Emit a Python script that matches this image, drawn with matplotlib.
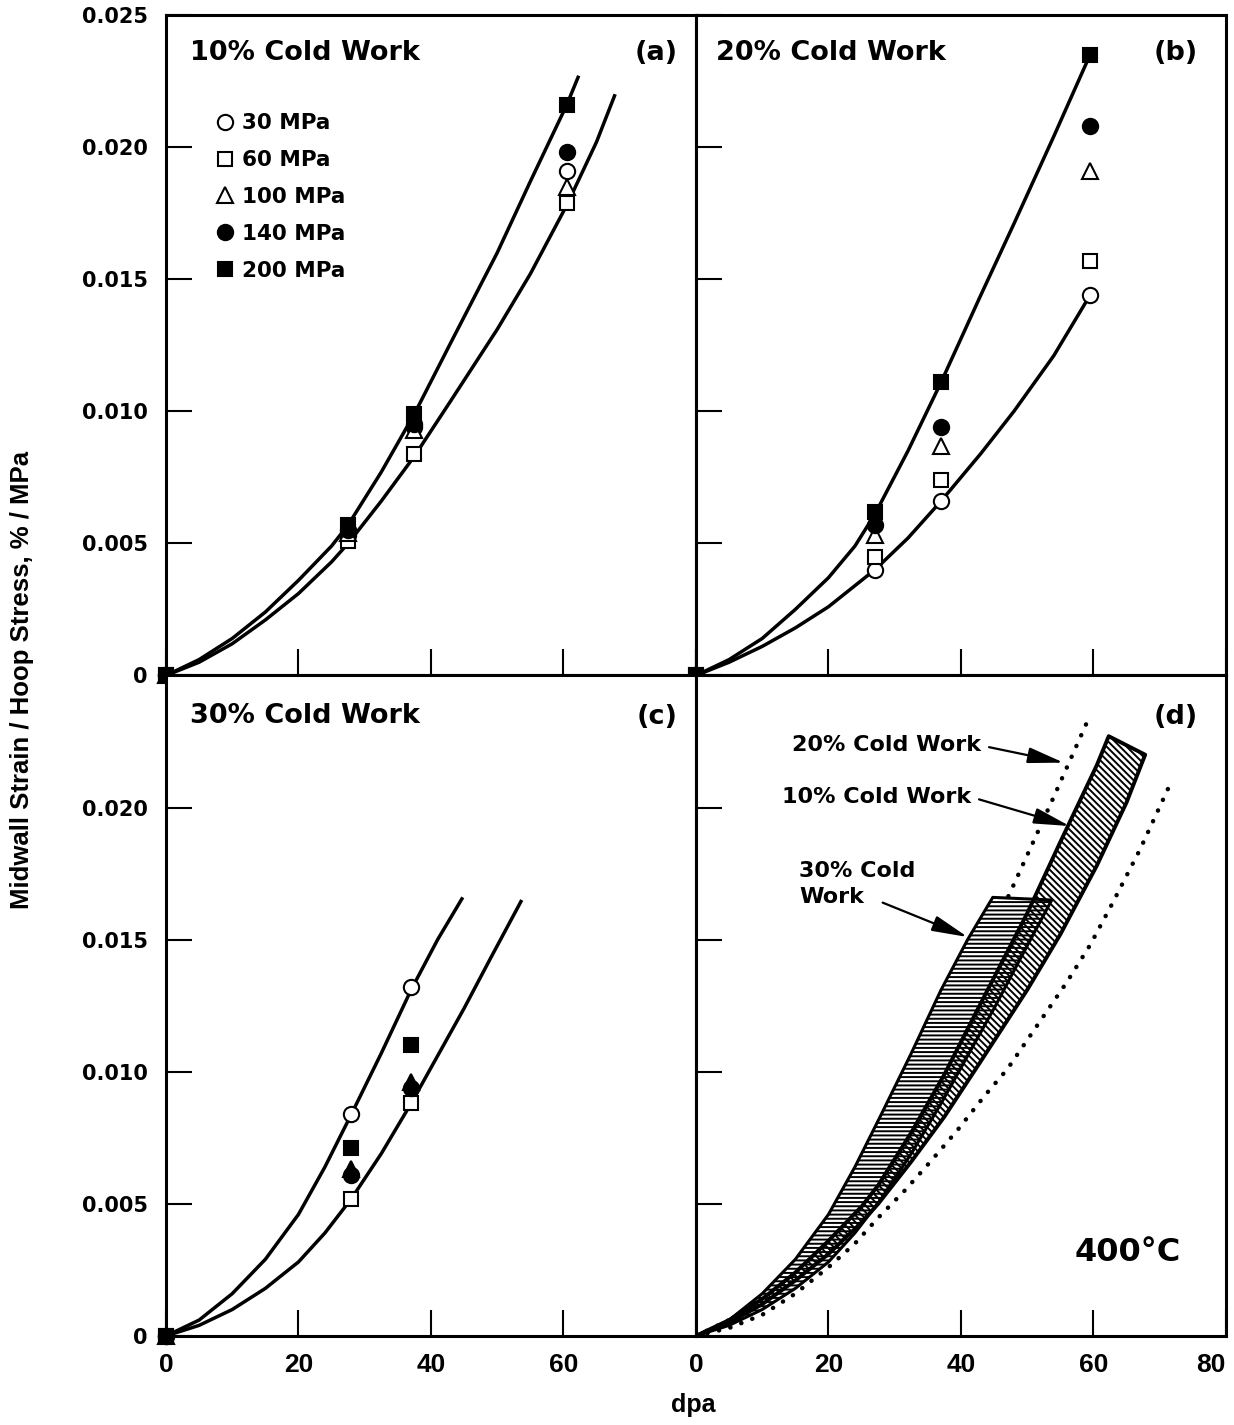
import matplotlib
matplotlib.use('Agg')
import matplotlib.pyplot as plt

# ---------------- data ----------------
stress_labels = ['30 MPa', '60 MPa', '100 MPa', '140 MPa', '200 MPa']

# (a) 10% cold work
dpa_a = [0, 27.5, 37.5, 60.5]
a_30 = [0, 0.0053, 0.0094, 0.0191]
a_60 = [0, 0.0051, 0.0084, 0.0179]
a_100 = [0, 0.0054, 0.0093, 0.0185]
a_140 = [0, 0.0055, 0.0095, 0.0198]
a_200 = [0, 0.0057, 0.0099, 0.0216]
a_up_x = [0, 5, 10, 15, 20, 25, 27.5, 32.5, 37.5, 43, 50, 55, 60.5, 62.3]
a_up_y = [0, 0.0006, 0.0014, 0.0024, 0.0036, 0.0049, 0.0057, 0.0077, 0.0099,
          0.0126, 0.0160, 0.0187, 0.0216, 0.0227]
a_low_x = [0, 5, 10, 15, 20, 25, 27.5, 32.5, 37.5, 43, 50, 55, 60.5, 65, 67.8]
a_low_y = [0, 0.0005, 0.0012, 0.0021, 0.0031, 0.0043, 0.0050, 0.0066, 0.0083,
           0.0104, 0.0131, 0.0152, 0.0178, 0.0202, 0.0220]

# (b) 20% cold work
dpa_b = [0, 27, 37, 59.5]
b_30 = [0, 0.0040, 0.0066, 0.0144]
b_60 = [0, 0.0045, 0.0074, 0.0157]
b_100 = [0, 0.0053, 0.0087, 0.0191]
b_140 = [0, 0.0057, 0.0094, 0.0208]
b_200 = [0, 0.0062, 0.0111, 0.0235]
b_up_x = [0, 5, 10, 15, 20, 24, 27, 32, 37, 43, 48, 54, 59.5]
b_up_y = [0, 0.0006, 0.0014, 0.0025, 0.0037, 0.0049, 0.0061, 0.0085, 0.0111,
          0.0144, 0.0171, 0.0204, 0.0235]
b_low_x = [0, 5, 10, 15, 20, 24, 27, 32, 37, 43, 48, 54, 59.5]
b_low_y = [0, 0.0005, 0.0011, 0.0018, 0.0026, 0.0034, 0.0040, 0.0052, 0.0066,
           0.0084, 0.0100, 0.0121, 0.0144]

# (c) 30% cold work
dpa_c = [0, 28, 37]
c_30 = [0, 0.0084, 0.0132]
c_60 = [0, 0.0052, 0.0088]
c_100 = [0, 0.0063, 0.0096]
c_140 = [0, 0.0061, 0.0094]
c_200 = [0, 0.0071, 0.0110]
c_up_x = [0, 5, 10, 15, 20, 24, 28, 32.5, 37, 41, 44.8]
c_up_y = [0, 0.0006, 0.0016, 0.0029, 0.0046, 0.0064, 0.0084, 0.0107, 0.0131,
          0.0150, 0.0166]
c_low_x = [0, 5, 10, 15, 20, 24, 28, 32.5, 37, 41, 45, 49, 53.7]
c_low_y = [0, 0.0004, 0.0010, 0.0018, 0.0028, 0.0039, 0.0052, 0.0069, 0.0088,
           0.0106, 0.0124, 0.0143, 0.0165]

# (d) lower dotted bound of 20% cold work
d_low_x = [0, 5, 10, 15, 20, 24, 27.6, 31.5, 35.4, 39.5, 43.6, 47, 50, 53, 56,
           59.5, 62.7, 67, 71.6]
d_low_y = [0, 0.0003, 0.0008, 0.0016, 0.0026, 0.0035, 0.0045, 0.0055, 0.0066,
           0.0078, 0.0091, 0.0101, 0.0112, 0.0123, 0.0134, 0.0148, 0.0163,
           0.0184, 0.0209]

x_ticks_left = [0, 20, 40, 60]
x_ticks_right = [0, 20, 40, 60, 80]
y_ticks_top = [0, 0.005, 0.010, 0.015, 0.020, 0.025]
y_labels_top = ['0', '0.005', '0.010', '0.015', '0.020', '0.025']
y_ticks_bot = [0, 0.005, 0.010, 0.015, 0.020]
y_labels_bot = ['0', '0.005', '0.010', '0.015', '0.020']

# ---------------- style ----------------
plt.rcParams['font.family'] = ['DejaVu Sans']
plt.rcParams['font.weight'] = 'bold'
plt.rcParams['hatch.linewidth'] = 1.4

markers = ['o', 's', '^', 'o', 's']
faces = ['white', 'white', 'white', 'black', 'black']
msizes = [11, 10.5, 12, 11, 10.5]

fig = plt.figure(figsize=(12.34, 14.25), dpi=100)
L, W, H, B = 0.1345, 0.4295, 0.4635, 0.0625
axa = fig.add_axes([L, B + H, W, H])
axb = fig.add_axes([L + W, B + H, W, H])
axc = fig.add_axes([L, B, W, H])
axd = fig.add_axes([L + W, B, W, H])

for ax in (axa, axb, axc, axd):
    ax.set_xlim(0, 80)
    ax.set_ylim(0, 0.025)
    for s in ax.spines.values():
        s.set_linewidth(2.2)
    ax.tick_params(direction='in', length=19, width=1.5, top=False, right=False)
    ax.set_xticks(x_ticks_right)
    ax.set_yticks(y_ticks_top)
    ax.tick_params(labelbottom=False, labelleft=False)

xfont = dict(family=['Liberation Sans', 'DejaVu Sans'], size=19, weight='bold')
yfont = dict(family=['DejaVu Sans'], size=15, weight='bold')

axa.set_yticks(y_ticks_top)
axa.set_yticklabels(y_labels_top, fontdict=yfont)
axa.tick_params(labelleft=True, pad=13)
axc.set_yticks(y_ticks_bot)
axc.set_yticklabels(y_labels_bot, fontdict=yfont)
axc.tick_params(labelleft=True, pad=13)
axc.set_xticks(x_ticks_left)
axc.set_xticklabels([str(v) for v in x_ticks_left], fontdict=xfont)
axc.tick_params(labelbottom=True, axis='x', pad=12)
axd.set_xticks(x_ticks_right)
axd.set_xticklabels([str(v) for v in x_ticks_right], fontdict=xfont)
axd.tick_params(labelbottom=True, axis='x', pad=12)
for lab in axd.get_xticklabels():
    if lab.get_text() == '80':
        lab.set_horizontalalignment('right')
axb.set_yticks(y_ticks_top)
axd.set_yticks(y_ticks_bot)


def draw_panel(ax, xs, series, curves, tri_face='white'):
    for cx, cy in curves:
        ax.plot(cx, cy, color='black', lw=2.5, zorder=2, solid_capstyle='butt',
                solid_joinstyle='round')
    for i, (ys, lab) in enumerate(zip(series, stress_labels)):
        fc = faces[i]
        if i == 2:
            fc = tri_face
        ax.plot(xs, ys, linestyle='none', marker=markers[i], ms=msizes[i],
                mfc=fc, mec='black', mew=1.5, label=lab, zorder=3 + i, clip_on=False)


draw_panel(axa, dpa_a, [a_30, a_60, a_100, a_140, a_200],
           [(a_up_x, a_up_y), (a_low_x, a_low_y)])
draw_panel(axb, dpa_b, [b_30, b_60, b_100, b_140, b_200],
           [(b_up_x, b_up_y), (b_low_x, b_low_y)])
draw_panel(axc, dpa_c, [c_30, c_60, c_100, c_140, c_200],
           [(c_up_x, c_up_y), (c_low_x, c_low_y)], tri_face='black')

leg = axa.legend(loc='upper left', bbox_to_anchor=(0.093, 0.851), frameon=False,
                 handlelength=0.9, handletextpad=0.35, labelspacing=0.78,
                 borderpad=0, borderaxespad=0,
                 prop=dict(family='DejaVu Sans', weight='bold', size=15.5))

tfont = dict(fontsize=19.5, fontweight='bold', va='center')
axa.text(0.045, 0.942, '10% Cold Work', transform=axa.transAxes, ha='left', **tfont)
axa.text(0.966, 0.942, '(a)', transform=axa.transAxes, ha='right', **tfont)
axb.text(0.038, 0.942, '20% Cold Work', transform=axb.transAxes, ha='left', **tfont)
axb.text(0.947, 0.942, '(b)', transform=axb.transAxes, ha='right', **tfont)
axc.text(0.045, 0.939, '30% Cold Work', transform=axc.transAxes, ha='left', **tfont)
axc.text(0.966, 0.937, '(c)', transform=axc.transAxes, ha='right', **tfont)
axd.text(0.947, 0.937, '(d)', transform=axd.transAxes, ha='right', **tfont)
axd.text(0.814, 0.126, '400°C', transform=axd.transAxes, ha='center', va='center',
         fontsize=23, fontweight='bold')

# ---- panel (d) ----
dot_style = dict(color='black', lw=3.2, linestyle=(0, (0.05, 2.6)),
                 dash_capstyle='round', zorder=1)
axd.plot(b_up_x, b_up_y, **dot_style)
axd.plot(d_low_x, d_low_y, **dot_style)

band30_x = list(c_up_x) + list(c_low_x[::-1])
band30_y = list(c_up_y) + list(c_low_y[::-1])
axd.fill(band30_x, band30_y, facecolor='white', edgecolor='black', hatch='----',
         lw=2.2, zorder=2, joinstyle='round')
band10_x = list(a_up_x) + list(a_low_x[::-1])
band10_y = list(a_up_y) + list(a_low_y[::-1])
axd.fill(band10_x, band10_y, facecolor='none', edgecolor='black', hatch='\\\\\\\\\\',
         lw=2.8, zorder=3, joinstyle='round')

afont = dict(fontsize=16, fontweight='bold')
arrow = dict(arrowstyle='-|>,head_length=1.0,head_width=0.22', color='black', lw=1.6,
             mutation_scale=22, shrinkA=4, shrinkB=0)
axd.annotate('20% Cold Work', xy=(55.5, 0.0217), xytext=(43.0, 0.02235),
             ha='right', va='center', arrowprops=dict(relpos=(1, 0.5), **arrow), **afont)
axd.annotate('10% Cold Work', xy=(56.4, 0.0193), xytext=(41.5, 0.0204),
             ha='right', va='center', arrowprops=dict(relpos=(1, 0.5), **arrow), **afont)
axd.text(15.6, 0.0171, '30% Cold\nWork', ha='left', va='center', linespacing=1.35, **afont)
axd.annotate('', xy=(41.0, 0.0151), xytext=(27.4, 0.01648), arrowprops=arrow)

fig.text(0.5616, 0.014, 'dpa', ha='center', va='center',
         family=['Liberation Sans', 'DejaVu Sans'], fontsize=18, fontweight='bold')
fig.text(0.018, 0.523, 'Midwall Strain / Hoop Stress, % / MPa', rotation=90,
         ha='center', va='center', family=['Liberation Sans', 'DejaVu Sans'],
         fontsize=18.5, fontweight='bold')

fig.savefig('out.png', dpi=100, facecolor='white')
